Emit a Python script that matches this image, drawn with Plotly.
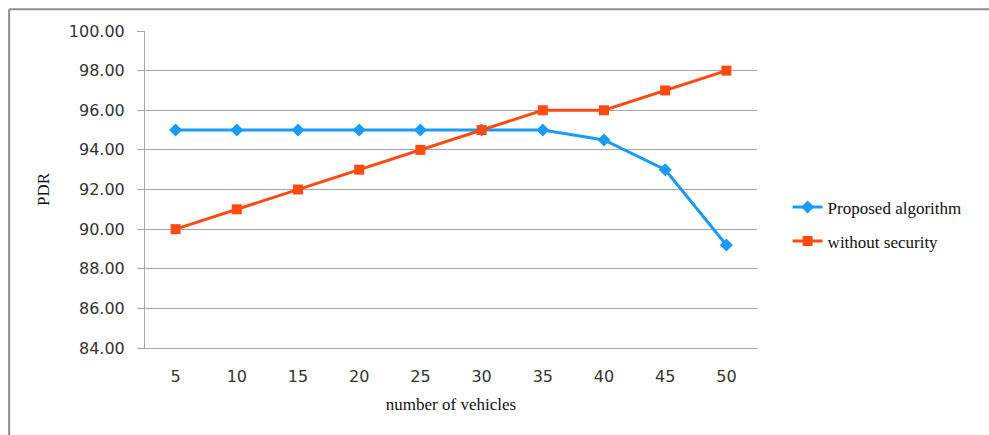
import plotly.graph_objects as go

# Number of vehicles on the road (category axis)
vehicles = ["5", "10", "15", "20", "25", "30", "35", "40", "45", "50"]

# Packet delivery ratio (%) for each scheme
proposed_pdr = [95.0, 95.0, 95.0, 95.0, 95.0, 95.0, 95.0, 94.5, 93.0, 89.2]
no_security_pdr = [90.0, 91.0, 92.0, 93.0, 94.0, 95.0, 96.0, 96.0, 97.0, 98.0]

y_ticks = [84, 86, 88, 90, 92, 94, 96, 98, 100]

serif = "Liberation Serif, Times New Roman, serif"
sans = "DejaVu Sans, Verdana, sans-serif"
grid = "#a6a6a6"

fig = go.Figure()
fig.add_trace(go.Scatter(
    x=vehicles, y=proposed_pdr, name="Proposed algorithm",
    mode="lines+markers", legendgroup="a",
    line=dict(color="#1a9bf5", width=3),
    marker=dict(symbol="diamond", size=10, color="#1a9bf5"),
))
fig.add_trace(go.Scatter(
    x=vehicles, y=no_security_pdr, name="without security",
    mode="lines+markers", legendgroup="b",
    line=dict(color="#ff4a12", width=3),
    marker=dict(symbol="square", size=10, color="#ff4a12"),
))

fig.update_layout(
    width=989, height=435,
    margin=dict(l=145, r=232, t=31, b=87),
    paper_bgcolor="white", plot_bgcolor="white",
    showlegend=True,
    legend=dict(
        x=1.05, y=0.39, xanchor="left", yanchor="middle",
        font=dict(family=serif, size=17, color="#111"),
        tracegroupgap=9, bgcolor="rgba(0,0,0,0)",
    ),
    xaxis=dict(
        type="category", range=[-0.5, 9.5],
        showgrid=False, showline=True, linecolor=grid, linewidth=1,
        ticks="", ticklabelstandoff=14,
        tickfont=dict(family=sans, size=16, color="#333"),
        title=dict(text="number of vehicles",
                   font=dict(family=serif, size=17, color="#111"), standoff=12),
    ),
    yaxis=dict(
        range=[84, 100], tickvals=y_ticks,
        ticktext=[f"{v:.2f}" for v in y_ticks],
        showgrid=True, gridcolor=grid, gridwidth=1,
        showline=True, linecolor=grid, linewidth=1,
        ticks="outside", ticklen=7, tickcolor=grid,
        ticklabelstandoff=9,
        tickfont=dict(family=sans, size=16, color="#333"),
        zeroline=False,
        title=dict(text="PDR", font=dict(family=serif, size=17, color="#111"),
                   standoff=14),
    ),
    shapes=[
        dict(type="line", xref="paper", yref="paper",
             x0=-0.222, x1=-0.222, y0=1.069, y1=-0.5,
             line=dict(color="#8c8c8c", width=2)),
        dict(type="line", xref="paper", yref="paper",
             x0=-0.222, x1=1.6, y0=1.069, y1=1.069,
             line=dict(color="#8c8c8c", width=2)),
    ],
)

fig.write_html("out.html")
